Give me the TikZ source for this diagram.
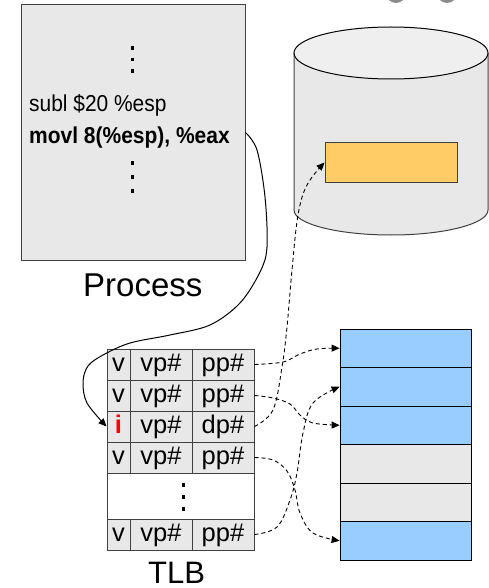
\documentclass[tikz,border=0pt]{standalone}
\usepackage{fontspec}
\setmainfont{Liberation Sans}
\newfontfamily\codefont[FakeStretch=0.91,BoldFeatures={FakeStretch=0.912}]{Liberation Sans}
\usetikzlibrary{arrows.meta}
\definecolor{boxgray}{HTML}{E8E8E8}
\definecolor{disktop}{HTML}{EFEFEF}
\definecolor{blockorange}{HTML}{FFCC66}
\definecolor{pageblue}{HTML}{99CCFF}
\definecolor{edgegray}{HTML}{404040}
\definecolor{knobgray}{HTML}{8C8C8C}
\begin{document}
\begin{tikzpicture}[x=1pt,y=-1pt,
  cell/.style={draw=edgegray, line width=1pt, fill=boxgray, inner sep=0pt,
    minimum height=31pt, text height=18pt, text depth=5pt,
    font=\fontsize{25.5}{30}\selectfont},
  flagcell/.style={cell, minimum width=23pt},
  pagecell/.style={cell, minimum width=62pt},
  memrow/.style={draw=black, line width=0.8pt, inner sep=0pt,
    minimum width=131pt, minimum height=38.5pt},
  link/.style={line width=0.9pt, dash pattern=on 4pt off 3pt,
    -{Triangle[length=8pt,width=7pt]}},
  flow/.style={line width=1pt, -{Triangle[length=8pt,width=7pt]}},
  caption/.style={anchor=base west, inner sep=0pt, text depth=0pt,
    font=\fontsize{33}{38}\selectfont}
]
\useasboundingbox (0,0) rectangle (489,588);

% two knobs just above the top edge
\fill[knobgray] (396,-7) circle (10);
\fill[knobgray] (447,-7) circle (10);

% process code listing
\node[draw=edgegray, line width=1pt, fill=boxgray, inner sep=0pt,
      minimum width=224pt, minimum height=255pt] (proc) at (133,132.5) {};
\foreach \y in {48,59.5,71,163,177,191}
  \fill (130.5,\y-1.7) rectangle ++(3.4,3.4);
\node[anchor=base west, inner sep=0pt, font=\codefont\fontsize{23}{27}\selectfont]
  (subl) at (29,112) {subl \$20 \%esp};
\node[anchor=base west, inner sep=0pt, font=\codefont\bfseries\fontsize{23}{27}\selectfont]
  (movl) at (29,143) {movl 8(\%esp), \%eax};
\node[caption] (proclabel) at (83,296) {Process};

% disk
\fill[boxgray] (294,53) rectangle (488,210);
\fill[boxgray] (391,210) ellipse [x radius=97, y radius=25];
\draw[line width=1pt, edgegray] (294,53) -- (294,210)
  arc[start angle=180, end angle=0, x radius=97, y radius=25] -- (488,53);
\draw[line width=1pt, fill=disktop] (391,53) ellipse [x radius=97, y radius=26];
\node[draw=edgegray, line width=1pt, fill=blockorange, inner sep=0pt,
      minimum width=132pt, minimum height=39pt] (block) at (391,162.5) {};

% physical memory
\node[memrow, fill=pageblue] (m1) at (405.5,348.25) {};
\node[memrow, fill=pageblue] (m2) at (405.5,386.75) {};
\node[memrow, fill=pageblue] (m3) at (405.5,425.25) {};
\node[memrow, fill=boxgray]  (m4) at (405.5,463.75) {};
\node[memrow, fill=boxgray]  (m5) at (405.5,502.25) {};
\node[memrow, fill=pageblue] (m6) at (405.5,540.75) {};

% TLB
\node[flagcell] (c11) at (118.5,364.5) {v};
\node[pagecell] (c12) at (161,364.5) {vp\#};
\node[pagecell] (c13) at (223,364.5) {pp\#};
\node[flagcell] (c21) at (118.5,395.5) {v};
\node[pagecell] (c22) at (161,395.5) {vp\#};
\node[pagecell] (c23) at (223,395.5) {pp\#};
\node[flagcell, text=red, font=\bfseries\fontsize{25.5}{30}\selectfont] (c31) at (118.5,426.5) {i};
\node[pagecell] (c32) at (161,426.5) {vp\#};
\node[pagecell] (c33) at (223,426.5) {dp\#};
\node[flagcell] (c41) at (118.5,457.5) {v};
\node[pagecell] (c42) at (161,457.5) {vp\#};
\node[pagecell] (c43) at (223,457.5) {pp\#};
\node[draw=edgegray, line width=1pt, fill=white, inner sep=0pt,
      minimum width=147pt, minimum height=46pt] (gap) at (180.5,496) {};
\foreach \y in {485,497,509}
  \fill (181.5,\y-1.7) rectangle ++(3.4,3.4);
\node[flagcell] (c51) at (118.5,534.5) {v};
\node[pagecell] (c52) at (161,534.5) {vp\#};
\node[pagecell] (c53) at (223,534.5) {pp\#};
\node[caption, font=\fontsize{31}{36}\selectfont] (tlblabel) at (148,583) {TLB};

% instruction lookup into the TLB
\draw[flow] plot[smooth, tension=0.55] coordinates {
  (proc.east) (257,150) (265,197) (267,247) (260,272) (240,303) (210,325)
  (170,335) (130,343) (103,355) (88,366) (83,382) (87,403) (c31.west)};

% translations
\draw[link] plot[smooth, tension=0.6] coordinates {
  (c33.east) (273,410) (282,367) (287,327) (292,270) (298,215) (307,185) (block.west)};
\draw[link] plot[smooth, tension=0.6] coordinates {
  (c13.east) (283,362) (300,354) (317,349) (m1.west)};
\draw[link] plot[smooth, tension=0.6] coordinates {
  (c23.east) (273,398) (290,404) (300,415) (313,423) (m3.west)};
\draw[link] plot[smooth, tension=0.6] coordinates {
  (c43.east) (273,460) (287,471) (295,490) (300,513) (313,533) (m6.west)};
\draw[link] plot[smooth, tension=0.6] coordinates {
  (c53.east) (277,527) (290,500) (297,473) (303,433) (313,403) (m2.west)};
\end{tikzpicture}
\end{document}
